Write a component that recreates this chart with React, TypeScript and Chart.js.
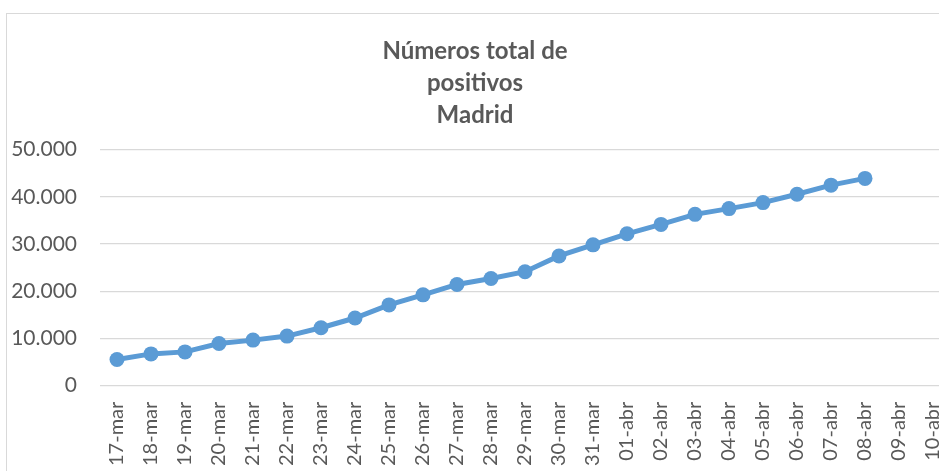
import React, { useEffect, useRef } from "react";
import { Chart, registerables } from "chart.js";

Chart.register(...registerables);

const categories = [
  "17-mar", "18-mar", "19-mar", "20-mar", "21-mar", "22-mar", "23-mar", "24-mar",
  "25-mar", "26-mar", "27-mar", "28-mar", "29-mar", "30-mar", "31-mar",
  "01-abr", "02-abr", "03-abr", "04-abr", "05-abr", "06-abr", "07-abr", "08-abr",
  "09-abr", "10-abr",
];

const positivos: (number | null)[] = [
  5540, 6730, 7160, 8940, 9650, 10500, 12270, 14330,
  17100, 19230, 21430, 22700, 24130, 27470, 29820,
  32160, 34140, 36270, 37490, 38760, 40530, 42450, 43880,
  null, null,
];

const titleLines = ["Números total de", "positivos", "Madrid"];

const yMin = 0;
const yMax = 50000;
const yStep = 10000;

const fmt = (v: number) => String(v).replace(/\B(?=(\d{3})+(?!\d))/g, ".");

export default function App() {
  const ref = useRef<HTMLCanvasElement | null>(null);

  useEffect(() => {
    if (!ref.current) return;
    const chart = new Chart(ref.current, {
      type: "line",
      data: {
        labels: categories,
        datasets: [
          {
            data: positivos,
            borderColor: "#5b9bd5",
            backgroundColor: "#5b9bd5",
            borderWidth: 5,
            pointRadius: 7.5,
            pointHoverRadius: 7.5,
            pointBackgroundColor: "#5b9bd5",
            pointBorderColor: "#5b9bd5",
            pointBorderWidth: 0,
            tension: 0,
            spanGaps: false,
          },
        ],
      },
      options: {
        responsive: false,
        animation: false,
        devicePixelRatio: 1,
        layout: { padding: { left: 0, right: 30, top: 0, bottom: 0 } },
        plugins: {
          legend: { display: false },
          tooltip: { enabled: false },
          title: {
            display: true,
            text: titleLines,
            color: "#595959",
            font: { family: "Lato", size: 24, weight: "bold", lineHeight: 32 / 24 },
            padding: { top: 35, bottom: 18.5 },
          },
        },
        scales: {
          x: {
            type: "category",
            offset: true,
            grid: { display: false, drawTicks: false },
            border: { display: false },
            ticks: {
              autoSkip: false,
              maxRotation: 90,
              minRotation: 90,
              padding: 16,
              color: "#595959",
              font: { family: "Lato", size: 20 },
            },
          },
          y: {
            min: yMin,
            max: yMax,
            grid: { color: "#d9d9d9", lineWidth: 1.3, drawTicks: false },
            border: { display: false },
            ticks: {
              stepSize: yStep,
              padding: 23,
              color: "#595959",
              font: { family: "Lato", size: 21 },
              callback: (v: any) => fmt(Number(v)),
            },
            afterFit: (scale: any) => {
              scale.width = 100;
            },
          },
        },
      },
    });
    return () => chart.destroy();
  }, []);

  return (
    <div
      style={{
        position: "fixed",
        left: 0,
        top: 0,
        width: 939,
        height: 471,
        overflow: "hidden",
        background: "#ffffff",
      }}
    >
      <div
        style={{
          position: "absolute",
          left: 6,
          top: 13,
          width: 946,
          height: 600,
          border: "1.5px solid #d9d9d9",
          boxSizing: "border-box",
        }}
      />
      <canvas
        ref={ref}
        width={980}
        height={482}
        style={{ position: "absolute", left: 0, top: 0, width: 980, height: 482 }}
      />
    </div>
  );
}
